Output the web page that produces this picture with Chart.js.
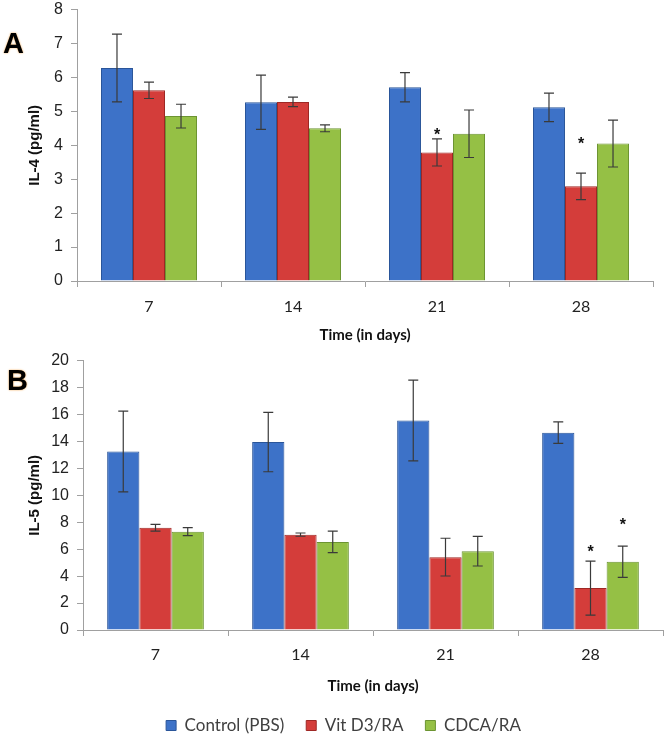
<!DOCTYPE html>
<html lang="en">
<head>
  <meta charset="UTF-8">
  <title>IL-4 and IL-5 over time</title>
  <script src="https://cdn.jsdelivr.net/npm/chart.js"></script>
  <style>
    * { margin: 0; padding: 0; box-sizing: border-box; }
    body {
      width: 665px;
      height: 736px;
      overflow: hidden;
      background: #ffffff;
      position: relative;
      font-family: "Liberation Sans", Arial, sans-serif;
    }
    .panel { position: absolute; left: 0; }
    .letter {
      position: absolute;
      font: bold 29px/29px "Liberation Sans", Arial, sans-serif;
      color: #000;
      text-shadow: 0 0 2px #f2a040;
    }
  </style>
</head>
<body>
  <div class="panel" style="top:-8px"><canvas id="chartA" width="665" height="358"></canvas></div>
  <div class="panel" style="top:343px"><canvas id="chartB" width="665" height="401"></canvas></div>
  <div class="letter" style="left:3px; top:29px">A</div>
  <div class="letter" style="left:7px; top:366px">B</div>

  <script>
    // categories and series
    const days = ['7', '14', '21', '28'];
    const seriesNames = ['Control (PBS)', 'Vit D3/RA', 'CDCA/RA'];

    // panel A - IL-4 (pg/ml)
    const il4Control = [6.28, 5.27, 5.71, 5.12];
    const il4VitD3 = [5.62, 5.28, 3.79, 2.79];
    const il4Cdca = [4.86, 4.50, 4.34, 4.05];
    const il4ControlErr = [1.0, 0.8, 0.43, 0.42];
    const il4VitD3Err = [0.24, 0.14, 0.40, 0.39];
    const il4CdcaErr = [0.35, 0.10, 0.70, 0.69];
    const il4VitD3Star = [null, null, 4.41, 4.13];

    // panel B - IL-5 (pg/ml)
    const il5Control = [13.25, 13.95, 15.55, 14.65];
    const il5VitD3 = [7.59, 7.08, 5.41, 3.11];
    const il5Cdca = [7.30, 6.54, 5.85, 5.07];
    const il5ControlErr = [3.0, 2.2, 3.0, 0.8];
    const il5VitD3Err = [0.25, 0.12, 1.4, 2.0];
    const il5CdcaErr = [0.30, 0.80, 1.1, 1.16];
    const il5VitD3Star = [null, null, null, 6.07];
    const il5CdcaStar = [null, null, null, 8.05];

    const fills = ['#3d72c8', '#d43d3a', '#95c045'];
    const edges = ['#2a5599', '#9e2825', '#6c9432'];

    // error bars and significance stars
    const errorBarPlugin = {
      id: 'errorBars',
      afterDatasetsDraw(chart) {
        const ctx = chart.ctx;
        const yScale = chart.scales.y;
        ctx.save();
        chart.data.datasets.forEach((ds, i) => {
          const meta = chart.getDatasetMeta(i);
          meta.data.forEach((bar, j) => {
            const v = ds.data[j];
            const e = ds.errors[j];
            const top = yScale.getPixelForValue(v + e);
            const bot = yScale.getPixelForValue(v - e);
            ctx.strokeStyle = '#3a3a3a';
            ctx.lineWidth = 1.2;
            ctx.beginPath();
            ctx.moveTo(bar.x, top); ctx.lineTo(bar.x, bot);
            ctx.moveTo(bar.x - 5, top); ctx.lineTo(bar.x + 5, top);
            ctx.moveTo(bar.x - 5, bot); ctx.lineTo(bar.x + 5, bot);
            ctx.stroke();
            if (ds.stars && ds.stars[j] != null) {
              ctx.fillStyle = '#111';
              ctx.font = 'bold 16px "Liberation Sans", Arial, sans-serif';
              ctx.textAlign = 'center';
              ctx.textBaseline = 'middle';
              ctx.fillText('*', bar.x, yScale.getPixelForValue(ds.stars[j]) + 4);
            }
          });
        });
        ctx.restore();
      }
    };

    function makeDatasets(values, errors, stars) {
      return values.map((vals, i) => ({
        label: seriesNames[i],
        data: vals,
        errors: errors[i],
        stars: stars[i],
        backgroundColor: fills[i],
        borderColor: edges[i],
        borderWidth: 1,
        categoryPercentage: 0.667,
        barPercentage: 1.0
      }));
    }

    function makeOptions(cfg) {
      return {
        responsive: false,
        animation: false,
        layout: { padding: cfg.padding },
        plugins: {
          legend: cfg.legend,
          tooltip: { enabled: false }
        },
        scales: {
          x: {
            grid: { drawOnChartArea: false, tickLength: 6, color: '#a0a0a0' },
            border: { color: '#a0a0a0' },
            ticks: {
              color: '#222',
              padding: cfg.xTickPad,
              font: { family: 'Lato', size: 16 }
            },
            title: {
              display: true,
              text: 'Time (in days)',
              color: '#111',
              font: { family: 'Lato', size: 15, weight: 'bold' },
              padding: { top: 0, bottom: cfg.xTitlePad }
            },
            afterFit: s => { s.height = cfg.xHeight; }
          },
          y: {
            min: 0,
            max: cfg.yMax,
            grid: { drawOnChartArea: false, tickLength: 6, color: '#a0a0a0' },
            border: { color: '#a0a0a0' },
            ticks: {
              stepSize: cfg.yStep,
              color: '#222',
              padding: 8,
              font: { family: 'Liberation Sans', size: 16 }
            },
            title: {
              display: true,
              text: cfg.yTitle,
              color: '#111',
              font: { family: 'Liberation Sans', size: 15, weight: 'bold' },
              padding: { top: 2, bottom: 0 }
            },
            afterFit: s => { s.width = cfg.yWidth; }
          }
        }
      };
    }

    new Chart(document.getElementById('chartA'), {
      type: 'bar',
      data: {
        labels: days,
        datasets: makeDatasets(
          [il4Control, il4VitD3, il4Cdca],
          [il4ControlErr, il4VitD3Err, il4CdcaErr],
          [null, il4VitD3Star, null]
        )
      },
      options: makeOptions({
        padding: { left: 24, right: 12, top: 1, bottom: 0 },
        legend: { display: false },
        xHeight: 69, xTickPad: 10, xTitlePad: 6,
        yMax: 8, yStep: 1, yTitle: 'IL-4 (pg/ml)', yWidth: 53
      }),
      plugins: [errorBarPlugin]
    });

    new Chart(document.getElementById('chartB'), {
      type: 'bar',
      data: {
        labels: days,
        datasets: makeDatasets(
          [il5Control, il5VitD3, il5Cdca],
          [il5ControlErr, il5VitD3Err, il5CdcaErr],
          [null, il5VitD3Star, il5CdcaStar]
        )
      },
      options: makeOptions({
        padding: { left: 24, right: 2, top: 2, bottom: 0 },
        legend: {
          display: true,
          position: 'bottom',
          labels: {
            boxWidth: 10,
            boxHeight: 10,
            padding: 22,
            color: '#404040',
            font: { family: 'Lato', size: 17 }
          }
        },
        xHeight: 65, xTickPad: 9, xTitlePad: 0,
        yMax: 20, yStep: 2, yTitle: 'IL-5 (pg/ml)', yWidth: 59
      }),
      plugins: [errorBarPlugin]
    });
  </script>
</body>
</html>
